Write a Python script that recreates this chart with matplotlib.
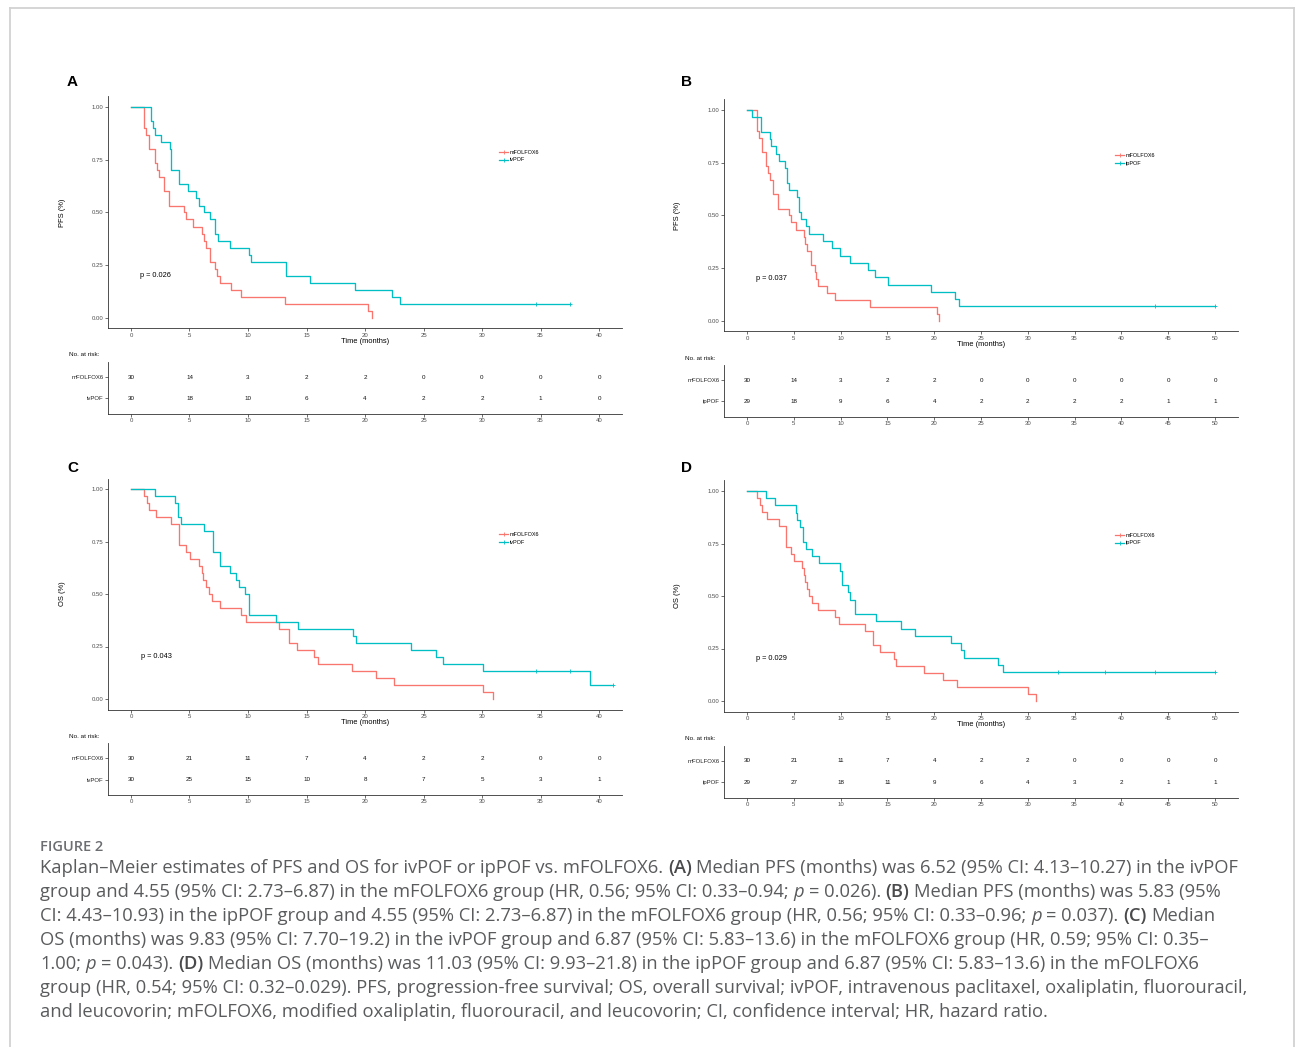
import re
import numpy as np
import matplotlib
matplotlib.use('Agg')
import matplotlib.pyplot as plt
from matplotlib.lines import Line2D

W, H = 1295, 1047
RED = '#F8766D'
CYAN = '#00BFC4'

# ---------------- data ----------------
# PFS, mFOLFOX6 arm (panels A and B)
pfs_mfolfox6_t = [1.09, 1.27, 1.58, 2.08, 2.26, 2.42, 2.79, 3.29, 4.50, 4.68, 5.27, 6.05,
                  6.23, 6.42, 6.79, 7.22, 7.38, 7.63, 8.53, 9.40, 13.18, 20.25, 20.56]
pfs_mfolfox6_s = [0.900, 0.867, 0.800, 0.733, 0.700, 0.667, 0.600, 0.533, 0.500, 0.467, 0.433, 0.400,
                  0.367, 0.333, 0.267, 0.233, 0.200, 0.167, 0.133, 0.100, 0.067, 0.033, 0.000]
pfs_mfolfox6_cens = []

# PFS, ivPOF arm (panel A)
pfs_ivpof_t = [1.71, 1.89, 2.02, 2.54, 3.32, 3.45, 4.09, 4.87, 5.52, 5.77, 6.26, 6.79, 7.22,
               7.47, 8.47, 10.10, 10.23, 13.25, 15.29, 19.16, 22.30, 22.95]
pfs_ivpof_s = [0.933, 0.900, 0.867, 0.833, 0.800, 0.700, 0.633, 0.600, 0.567, 0.533, 0.500, 0.467, 0.400,
               0.367, 0.333, 0.300, 0.267, 0.200, 0.167, 0.133, 0.100, 0.067]
pfs_ivpof_cens = [34.6, 37.5]

# PFS, ipPOF arm (panel B)
pfs_ippof_t = [0.50, 1.51, 2.48, 2.60, 3.10, 3.41, 4.07, 4.30, 4.50, 5.35, 5.55, 5.78, 6.28, 6.67,
               8.15, 9.08, 9.97, 10.98, 12.92, 13.70, 15.10, 19.70, 22.26, 22.65]
pfs_ippof_s = [0.966, 0.897, 0.862, 0.828, 0.793, 0.759, 0.724, 0.655, 0.621, 0.586, 0.517, 0.483, 0.448, 0.414,
               0.379, 0.345, 0.310, 0.276, 0.241, 0.207, 0.172, 0.138, 0.103, 0.069]
pfs_ippof_cens = [43.6, 50.0]

# OS, mFOLFOX6 arm (panels C and D)
os_mfolfox6_t = [1.09, 1.40, 1.58, 2.17, 3.41, 4.12, 4.74, 5.05, 5.83, 6.05, 6.17, 6.45, 6.64, 6.91,
                 7.60, 9.40, 9.83, 12.65, 13.50, 14.17, 15.66, 15.97, 18.90, 20.93, 22.48, 30.05, 30.90]
os_mfolfox6_s = [0.967, 0.933, 0.900, 0.867, 0.833, 0.733, 0.700, 0.667, 0.633, 0.600, 0.567, 0.533, 0.500, 0.467,
                 0.433, 0.400, 0.367, 0.333, 0.267, 0.233, 0.200, 0.167, 0.133, 0.100, 0.067, 0.033, 0.000]
os_mfolfox6_cens = []

# OS, ivPOF arm (panel C)
os_ivpof_t = [2.02, 3.75, 4.03, 4.28, 6.20, 7.04, 7.60, 8.43, 9.00, 9.20, 9.77, 10.10, 12.40, 14.30,
              19.00, 19.25, 23.90, 26.05, 26.70, 30.08, 39.20]
os_ivpof_s = [0.967, 0.933, 0.867, 0.833, 0.800, 0.700, 0.633, 0.600, 0.567, 0.533, 0.500, 0.400, 0.367, 0.333,
              0.300, 0.267, 0.233, 0.200, 0.167, 0.133, 0.067]
os_ivpof_cens = [34.64, 37.5, 41.2]

# OS, ipPOF arm (panel D)
os_ippof_t = [1.98, 3.03, 5.20, 5.35, 5.66, 5.97, 6.28, 6.94, 7.64, 9.95, 10.10, 10.74, 11.00, 11.56,
              13.73, 16.45, 17.90, 21.84, 22.90, 23.20, 26.84, 27.40]
os_ippof_s = [0.966, 0.931, 0.897, 0.862, 0.828, 0.759, 0.724, 0.690, 0.655, 0.621, 0.552, 0.517, 0.483, 0.414,
              0.379, 0.345, 0.310, 0.276, 0.241, 0.207, 0.172, 0.138]
os_ippof_cens = [33.2, 38.2, 43.6, 50.0]

# numbers at risk
risk_a_mfolfox6 = [30, 14, 3, 2, 2, 0, 0, 0, 0]
risk_a_ivpof = [30, 18, 10, 6, 4, 2, 2, 1, 0]
risk_b_mfolfox6 = [30, 14, 3, 2, 2, 0, 0, 0, 0, 0, 0]
risk_b_ippof = [29, 18, 9, 6, 4, 2, 2, 2, 2, 1, 1]
risk_c_mfolfox6 = [30, 21, 11, 7, 4, 2, 2, 0, 0]
risk_c_ivpof = [30, 25, 15, 10, 8, 7, 5, 3, 1]
risk_d_mfolfox6 = [30, 21, 11, 7, 4, 2, 2, 0, 0, 0, 0]
risk_d_ippof = [29, 27, 18, 11, 9, 6, 4, 3, 2, 1, 1]

pval_a, pval_b, pval_c, pval_d = 'p = 0.026', 'p = 0.037', 'p = 0.043', 'p = 0.029'

caption_title = 'FIGURE 2'
caption_lines = [
    'Kaplan\u2013Meier estimates of PFS and OS for ivPOF or ipPOF vs. mFOLFOX6. **(A)** Median PFS (months) was 6.52 (95% CI: 4.13\u201310.27) in the ivPOF',
    'group and 4.55 (95% CI: 2.73\u20136.87) in the mFOLFOX6 group (HR, 0.56; 95% CI: 0.33\u20130.94; *p* = 0.026). **(B)** Median PFS (months) was 5.83 (95%',
    'CI: 4.43\u201310.93) in the ipPOF group and 4.55 (95% CI: 2.73\u20136.87) in the mFOLFOX6 group (HR, 0.56; 95% CI: 0.33\u20130.96; *p* = 0.037). **(C)** Median',
    'OS (months) was 9.83 (95% CI: 7.70\u201319.2) in the ivPOF group and 6.87 (95% CI: 5.83\u201313.6) in the mFOLFOX6 group (HR, 0.59; 95% CI: 0.35\u2013',
    '1.00; *p* = 0.043). **(D)** Median OS (months) was 11.03 (95% CI: 9.93\u201321.8) in the ipPOF group and 6.87 (95% CI: 5.83\u201313.6) in the mFOLFOX6',
    'group (HR, 0.54; 95% CI: 0.32\u20130.029). PFS, progression-free survival; OS, overall survival; ivPOF, intravenous paclitaxel, oxaliplatin, fluorouracil,',
    'and leucovorin; mFOLFOX6, modified oxaliplatin, fluorouracil, and leucovorin; CI, confidence interval; HR, hazard ratio.',
]

# ---------------- layout (pixels) ----------------
plt.rcParams['font.family'] = ['Liberation Sans', 'DejaVu Sans']
fig = plt.figure(figsize=(W / 100, H / 100), dpi=100)


def px_rect(l, t, r, b):
    return [l / W, 1 - b / H, (r - l) / W, (b - t) / H]


def fx(x):
    return x / W


def fy(y):
    return 1 - y / H


panels = [
    dict(letter='A', box=(107.6, 96.5, 622.4, 328.5), tbl=(107.6, 362, 622.4, 413.5), xmax=40,
         ylab='PFS (%)', arms=[('mFOLFOX6', pfs_mfolfox6_t, pfs_mfolfox6_s, pfs_mfolfox6_cens, RED),
                               ('ivPOF', pfs_ivpof_t, pfs_ivpof_s, pfs_ivpof_cens, CYAN)],
         risk=[risk_a_mfolfox6, risk_a_ivpof], pval=pval_a,
         letter_xy=(72, 82), ylab_x=66, p_xy=(140, 276), leg_xy=(499, 150), nar_xy=(69, 355)),
    dict(letter='B', box=(723.6, 99.5, 1238.4, 331.5), tbl=(723.6, 365, 1238.4, 416.5), xmax=50,
         ylab='PFS (%)', arms=[('mFOLFOX6', pfs_mfolfox6_t, pfs_mfolfox6_s, pfs_mfolfox6_cens, RED),
                               ('ipPOF', pfs_ippof_t, pfs_ippof_s, pfs_ippof_cens, CYAN)],
         risk=[risk_b_mfolfox6, risk_b_ippof], pval=pval_b,
         letter_xy=(687, 82), ylab_x=681, p_xy=(756, 279), leg_xy=(1115, 153), nar_xy=(685, 358)),
    dict(letter='C', box=(107.6, 478.5, 622.4, 709.5), tbl=(107.6, 743, 622.4, 795), xmax=40,
         ylab='OS (%)', arms=[('mFOLFOX6', os_mfolfox6_t, os_mfolfox6_s, os_mfolfox6_cens, RED),
                              ('ivPOF', os_ivpof_t, os_ivpof_s, os_ivpof_cens, CYAN)],
         risk=[risk_c_mfolfox6, risk_c_ivpof], pval=pval_c,
         letter_xy=(73, 468), ylab_x=66, p_xy=(141, 657), leg_xy=(499, 532), nar_xy=(69, 736)),
    dict(letter='D', box=(723.6, 480.5, 1238.4, 711.5), tbl=(723.6, 745.5, 1238.4, 797.5), xmax=50,
         ylab='OS (%)', arms=[('mFOLFOX6', os_mfolfox6_t, os_mfolfox6_s, os_mfolfox6_cens, RED),
                              ('ipPOF', os_ippof_t, os_ippof_s, os_ippof_cens, CYAN)],
         risk=[risk_d_mfolfox6, risk_d_ippof], pval=pval_d,
         letter_xy=(687, 468), ylab_x=681, p_xy=(756, 659), leg_xy=(1115, 533), nar_xy=(685, 738)),
]

AX_COL = '#333333'
TXT_COL = '#4D4D4D'


def style_axis(ax):
    for sp in ['top', 'right']:
        ax.spines[sp].set_visible(False)
    for sp in ['left', 'bottom']:
        ax.spines[sp].set_linewidth(0.6)
        ax.spines[sp].set_color(AX_COL)
    ax.tick_params(length=2, width=0.5, color=AX_COL, labelsize=4.3, labelcolor=TXT_COL, pad=1)


for p in panels:
    l, t, r, b = p['box']
    xmax = p['xmax']
    ax = fig.add_axes(px_rect(l, t, r, b))
    ax.set_xlim(-0.05 * xmax, 1.05 * xmax)
    ax.set_ylim(-0.05, 1.05)
    ax.set_xticks(np.arange(0, xmax + 1, 5))
    ax.set_yticks([0, 0.25, 0.5, 0.75, 1.0])
    ax.set_yticklabels(['0.00', '0.25', '0.50', '0.75', '1.00'])
    style_axis(ax)
    ax.set_xlabel('Time (months)', fontsize=5.4, labelpad=0.5)
    ax.set_ylabel(p['ylab'], fontsize=5.4)
    ax.yaxis.set_label_coords((p['ylab_x'] - l) / (r - l), 0.5)

    handles = []
    for name, tt, ss, cens, col in p['arms']:
        x = np.concatenate([[0.0], tt])
        y = np.concatenate([[1.0], ss])
        if len(cens) and max(cens) > x[-1]:
            x = np.append(x, max(cens))
            y = np.append(y, y[-1])
        ax.step(x, y, where='post', color=col, lw=0.95)
        if len(cens):
            idx = np.searchsorted(tt, cens, side='right') - 1
            lev = [ss[i] if i >= 0 else 1.0 for i in idx]
            ax.plot(cens, lev, '+', color=col, ms=3, mew=0.6)
        handles.append(Line2D([], [], color=col, lw=0.9, marker='+', ms=3, mew=0.6))

    ax.legend(handles, [a[0] for a in p['arms']], loc='upper left',
              bbox_to_anchor=(fx(p['leg_xy'][0]), fy(p['leg_xy'][1])), bbox_transform=fig.transFigure,
              frameon=False, fontsize=4, handlelength=1.7, handletextpad=0.3, labelspacing=0.45,
              borderpad=0, borderaxespad=0)

    fig.text(fx(p['p_xy'][0]), fy(p['p_xy'][1]), p['pval'], fontsize=5.3, ha='left', va='center')
    fig.text(fx(p['letter_xy'][0]), fy(p['letter_xy'][1]), p['letter'], fontsize=11,
             fontweight='bold', ha='center', va='center')

    # risk table
    tl, tt_, tr, tb = p['tbl']
    tx = fig.add_axes(px_rect(tl, tt_, tr, tb))
    tx.set_xlim(-0.05 * xmax, 1.05 * xmax)
    tx.set_ylim(0.3, 2.7)
    ticks = np.arange(0, xmax + 1, 5)
    tx.set_xticks(ticks)
    tx.set_yticks([2, 1])
    tx.set_yticklabels([a[0] for a in p['arms']])
    style_axis(tx)
    tx.tick_params(axis='y', labelcolor='#222222')
    for row, counts in zip([2, 1], p['risk']):
        for tk, n in zip(ticks, counts):
            tx.text(tk, row, str(n), ha='center', va='center', fontsize=4.5, color='#111111')
    fig.text(fx(p['nar_xy'][0]), fy(p['nar_xy'][1]), 'No. at risk:', fontsize=4.6,
             ha='left', va='center', color='#111111')

# page border
for xs, ys in [([9.5, 9.5], [1060, 7.5]), ([9.5, 1294], [7.5, 7.5]), ([1294, 1294], [7.5, 1060])]:
    fig.add_artist(Line2D([fx(v) for v in xs], [fy(v) for v in ys], color='#d2d2d2', lw=1.3))

# caption
rend = fig.canvas.get_renderer()
CAP_FONT = 'Open Sans'
CAP_SIZE = 13.2
CAP_COL = '#5a5b5d'


def text_width(s, **kw):
    t = fig.text(0, 0, s, **kw)
    w = t.get_window_extent(rend).width
    t.remove()
    return w


space_w = {}


def rich_line(x, y, line):
    for part in re.split(r'(\*\*.+?\*\*|\*.+?\*)', line):
        if not part:
            continue
        kw = dict(fontsize=CAP_SIZE, color=CAP_COL, family=CAP_FONT)
        if part.startswith('**'):
            part = part[2:-2]
            kw['fontweight'] = 'semibold'
            kw['color'] = '#4a4a4c'
        elif part.startswith('*'):
            part = part[1:-1]
            kw['fontstyle'] = 'italic'
        key = (kw.get('fontweight'), kw.get('fontstyle'))
        if key not in space_w:
            space_w[key] = text_width('a a', **kw) - text_width('aa', **kw)
        lead = len(part) - len(part.lstrip(' '))
        trail = len(part) - len(part.rstrip(' '))
        x += lead * space_w[key]
        core = part.strip(' ')
        if core:
            t = fig.text(fx(x), fy(y), core, ha='left', va='baseline', **kw)
            x += t.get_window_extent(rend).width
        x += trail * space_w[key]


fig.text(fx(40), fy(851), caption_title, fontsize=10.5, family=CAP_FONT, fontweight='semibold',
         color='#6d6e71', ha='left', va='baseline')
for i, line in enumerate(caption_lines):
    rich_line(40, 873 + 24 * i, line)

fig.savefig('out.png', dpi=100)
